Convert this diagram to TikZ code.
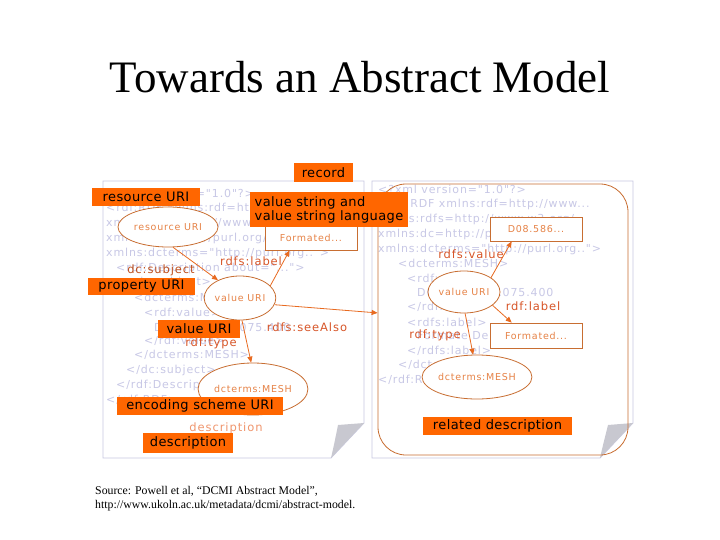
\documentclass[tikz,border=0pt]{standalone}
\usepackage{fontspec}
\setmainfont{Liberation Serif}
\newfontfamily\comic[LetterSpace=8]{DejaVu Sans}
\newfontfamily\comiclbl[LetterSpace=3]{DejaVu Sans}
\usetikzlibrary{shapes.geometric,arrows.meta}

\definecolor{lblorange}{RGB}{255,102,0}
\definecolor{ellcol}{RGB}{200,110,50}
\definecolor{elltext}{RGB}{230,130,70}
\definecolor{relcol}{RGB}{215,85,40}
\definecolor{subjcol}{RGB}{190,80,30}
\definecolor{arrcol}{RGB}{232,106,32}
\definecolor{xmlcol}{RGB}{200,200,230}
\definecolor{pagecol}{RGB}{200,200,225}
\definecolor{foldcol}{RGB}{200,200,208}
\definecolor{desccol}{RGB}{240,150,110}

\tikzset{
  lbl/.style={fill=lblorange, text=black, font=\comiclbl\fontsize{13}{14}\selectfont, inner sep=0pt},
  ell/.style={ellipse, draw=ellcol, fill=white, line width=0.8pt, text=elltext,
    font=\comic\fontsize{9.5}{11}\selectfont, inner sep=0pt},
  valbox/.style={draw=ellcol, fill=white, line width=0.8pt, text=elltext,
    font=\comic\fontsize{9.5}{11}\selectfont, inner sep=0pt, minimum width=92pt, minimum height=25pt},
  rel/.style={text=relcol, font=\comic\fontsize{11.5}{13}\selectfont, inner sep=0pt},
  xml/.style={text=xmlcol, font=\comic\fontsize{11}{13}\selectfont, anchor=west, inner sep=0pt},
  arr/.style={draw=arrcol, line width=0.8pt, -{Triangle[length=6pt,width=5pt]}},
  page/.style={draw=pagecol, line width=0.8pt, fill=white},
}

\begin{document}
\begin{tikzpicture}[x=1pt, y=-1pt]
  \useasboundingbox (0,0) rectangle (720,540);
  \fill[white] (0,0) rectangle (720,540);

  % the two pages with folded corners
  \draw[page] (103,181) -- (364,181) -- (364,423) -- (331,458) -- (103,458) -- cycle;
  \fill[foldcol] (338,425) -- (364,423) -- (331,458) .. controls (334,445) .. (338,425) -- cycle;
  \draw[page] (372,181) -- (633,181) -- (633,423) -- (600,458) -- (372,458) -- cycle;
  \fill[foldcol] (608,425) -- (633,423) -- (600,458) .. controls (603,445) .. (608,425) -- cycle;

  % xml behind the pictures
  \foreach \xx/\yy/\xmltxt [count=\i] in {
      106/193/{<?xml version="1.0"?>},
      106/208/{<rdf:RDF xmlns:rdf=http://www...},
      106/223/{xmlns:rdfs=http://www.w3.org/..},
      106/238/{xmlns:dc=http://purl.org/..},
      106/253/{xmlns:dcterms="http://purl.org..">},
      116/268/{<rdf:Description about="...">},
      126/282/{<dc:subject>},
      134/297/{<dcterms:MESH>},
      144/312/{<rdf:value>},
      154/327/{D08.586.682.075.400},
      144/341/{</rdf:value>},
      134/355/{</dcterms:MESH>},
      126/370/{</dc:subject>},
      116/385/{</rdf:Description>},
      106/400/{</rdf:RDF>}}
    \node[xml] (xl\i) at (\xx,\yy) {\xmltxt};
  \foreach \xx/\yy/\xmltxt [count=\i] in {
      378/189/{<?xml version="1.0"?>},
      378/204/{<rdf:RDF xmlns:rdf=http://www...},
      378/219/{xmlns:rdfs=http://www.w3.org/..},
      378/234/{xmlns:dc=http://purl.org/..},
      378/249/{xmlns:dcterms="http://purl.org..">},
      398/263/{<dcterms:MESH>},
      407/278/{<rdf:value>},
      417/292/{D08.586.682.075.400},
      407/307/{</rdf:value>},
      407/322/{<rdfs:label>},
      417/336/{Formate Dehydrogenase},
      407/351/{</rdfs:label>},
      398/365/{</dcterms:MESH>},
      378/380/{</rdf:RDF>}}
    \node[xml] (xr\i) at (\xx,\yy) {\xmltxt};

  % related description frame
  \node[draw=ellcol, line width=0.8pt, rounded corners=28pt, minimum width=250pt,
    minimum height=271pt, inner sep=0pt] (relrec) at (503,319.5) {};

  % record (left)
  \node[valbox] (fmtL) at (311,237.5) {Formated...};
  \node[ell, minimum width=100pt, minimum height=40pt] (resEll) at (168,227) {resource URI};
  \node[ell, minimum width=70pt, minimum height=44pt] (valEllL) at (240,298) {value URI};
  \node[ell, minimum width=96pt, minimum height=52pt] (meshEllL) at (253,389) {dcterms:MESH};

  % related description (right)
  \node[valbox, minimum height=24pt] (d08) at (536,229) {D08.586...};
  \node[valbox] (fmtR) at (536,335.5) {Formated...};
  \node[ell, minimum width=72pt, minimum height=42pt] (valEllR) at (464,292) {value URI};
  \node[ell, minimum width=98pt, minimum height=44pt] (meshEllR) at (477,377) {dcterms:MESH};

  \draw[arr] (resEll.-76) -- (valEllL.141);
  \draw[arr] (valEllL.22) -- (fmtL.211);
  \draw[arr] (valEllL.-11) -- (relrec.177);
  \draw[arr] (valEllL.-85) -- (meshEllL.94);
  \draw[arr] (valEllR.28) -- (d08.207);
  \draw[arr] (valEllR.-25) -- (fmtR.152);
  \draw[arr] (valEllR.-87) -- (meshEllR.100);

  \node[rel, text=subjcol] (subj) at (161,270) {dc:subject};
  \node[rel] (rlabL) at (251,261) {rdfs:label};
  \node[rel] (seeAlso) at (307,327) {rdfs:seeAlso};
  \node[rel] (typeL) at (211,343) {rdf:type};
  \node[rel] (rval) at (471,254) {rdfs:value};
  \node[rel] (rlabR) at (533,306) {rdf:label};
  \node[rel] (typeR) at (435,335) {rdf:type};
  \node[rel, text=desccol] (descTxt) at (226,428) {description};

  % orange call-outs
  \node[lbl, minimum width=59pt, minimum height=19pt] (recordLbl) at (323.5,172.5) {record};
  \node[lbl, minimum width=108pt, minimum height=18pt] (resLbl) at (146,197) {resource URI};
  \node[lbl, minimum width=158pt, minimum height=35pt, align=left] (vstrLbl) at (329,209.5)
    {value string and\\value string language};
  \node[lbl, minimum width=107pt, minimum height=17pt] (propLbl) at (141.5,286.5) {property URI};
  \node[lbl, minimum width=82pt, minimum height=18pt] (valLbl) at (199,328.5) {value URI};
  \node[lbl, minimum width=166pt, minimum height=18pt] (encLbl) at (200,406) {encoding scheme URI};
  \node[lbl, minimum width=90pt, minimum height=20pt] (descLbl) at (188,443) {description};
  \node[lbl, minimum width=149pt, minimum height=18pt] (reldescLbl) at (497.5,426) {related description};

  \node[font=\fontsize{45}{50}\selectfont, inner sep=0pt] (title) at (360,77) {Towards an Abstract Model};
  \node[anchor=north west, align=left, font=\fontsize{11.8}{14.5}\selectfont, inner sep=0pt] (src) at (95,486)
    {Source: Powell et al, “DCMI Abstract Model”,\\http://www.ukoln.ac.uk/metadata/dcmi/abstract-model.};
\end{tikzpicture}
\end{document}
